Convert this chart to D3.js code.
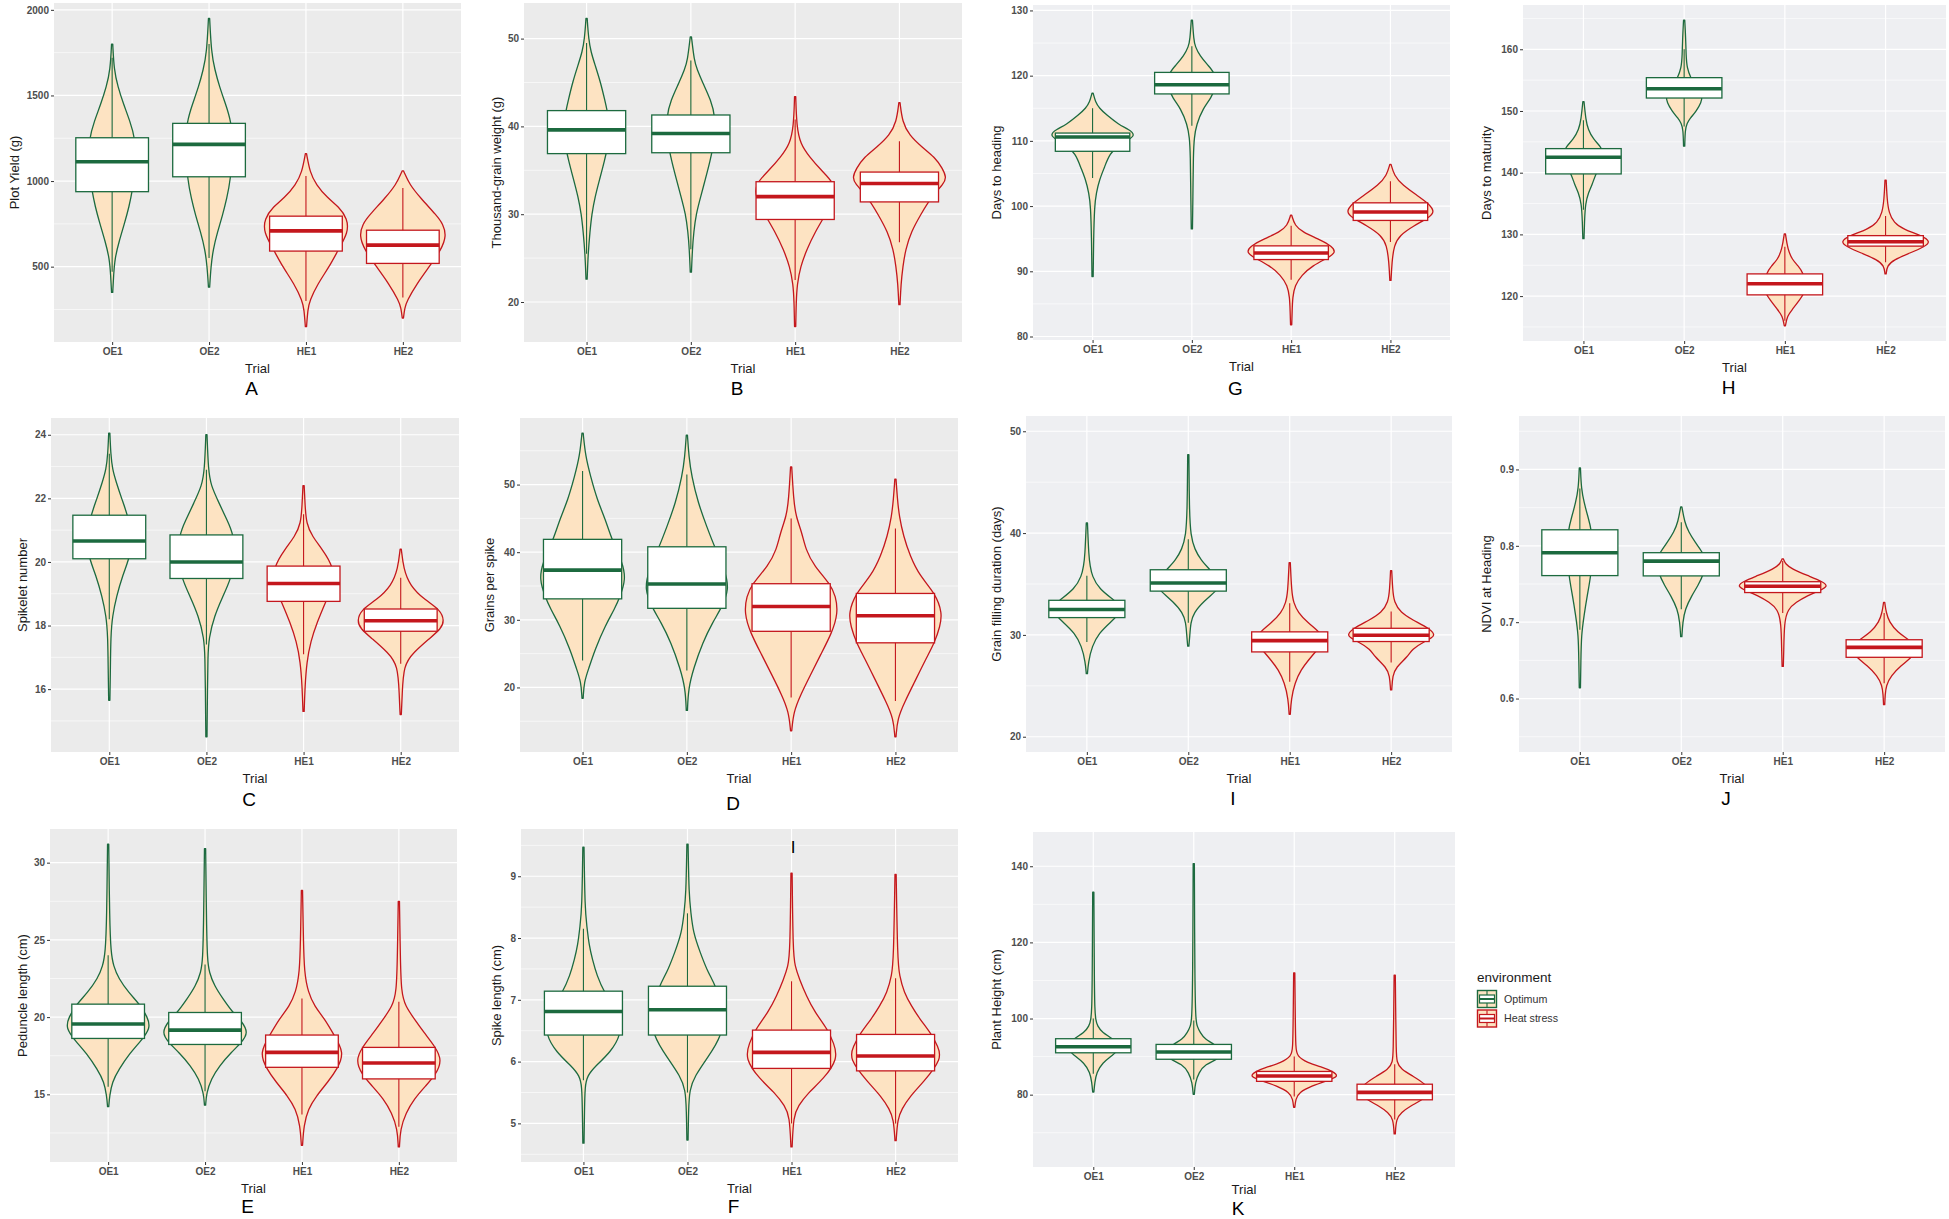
<!DOCTYPE html>
<html>
<head>
<meta charset="utf-8">
<script src="https://cdn.jsdelivr.net/npm/d3@7"></script>
<style>
	body { margin: 0; background: #fff; }
	svg { display: block; font-family: "Liberation Sans", Arial, sans-serif; }
	.tick-lab { font-size: 10px; font-weight: bold; fill: #4d4d4d; }
	.ax-title { font-size: 13px; fill: #1a1a1a; }
	.letter { font-family: "Liberation Sans", Arial, sans-serif; font-size: 19px; fill: #000; }
</style>
</head>
<body>
<svg id="chart" width="1949" height="1219"></svg>
<script>
// Trials on the x axis and the environment each one belongs to
const trials = ["OE1", "OE2", "HE1", "HE2"];
const environments = ["Optimum", "Optimum", "Heat stress", "Heat stress"];
const envNames = ["Optimum", "Heat stress"];

// Each violin is a list of [value, relative density]
// box = [q1, median, q3], whisker = [low, high]

// A - Plot yield
const yieldTicks = [500, 1000, 1500, 2000];
const yieldBox = [[938, 1113, 1253], [1025, 1214, 1337], [591, 709, 795], [519, 626, 713]];
const yieldWhisker = [[470, 1720], [550, 1800], [300, 1030], [320, 960]];
const yieldViolin = [
	[[350,0],[450,0.02],[550,0.05],[650,0.15],[750,0.27],[850,0.38],[950,0.46],[1100,0.55],[1250,0.52],[1350,0.4],[1450,0.25],[1550,0.12],[1650,0.03],[1800,0]],
	[[380,0],[500,0.03],[600,0.08],[700,0.18],[800,0.3],[900,0.4],[1000,0.48],[1200,0.55],[1350,0.5],[1450,0.37],[1550,0.23],[1650,0.12],[1750,0.04],[1950,0]],
	[[150,0],[250,0.03],[300,0.07],[400,0.26],[500,0.53],[600,0.74],[700,0.97],[780,0.95],[850,0.75],[900,0.49],[980,0.22],[1050,0.08],[1160,0]],
	[[200,0],[260,0.03],[300,0.08],[400,0.31],[500,0.6],[600,0.88],[680,1.0],[750,0.92],[800,0.77],[900,0.4],[980,0.14],[1060,0]]
];

// B - Thousand-grain weight
const tgwTicks = [20, 30, 40, 50];
const tgwBox = [[36.9, 39.6, 41.8], [37.0, 39.2, 41.3], [29.4, 32.0, 33.7], [31.4, 33.5, 34.8]];
const tgwWhisker = [[25.5, 49.5], [26, 47.5], [22.5, 40.8], [26.8, 38.3]];
const tgwViolin = [
	[[22.6,0],[25.5,0.02],[28,0.06],[30,0.1],[32,0.17],[34,0.27],[36,0.37],[38.5,0.48],[41,0.47],[43,0.38],[45,0.29],[47,0.17],[48.5,0.08],[50,0.03],[52.3,0]],
	[[23.4,0],[26,0.02],[28,0.05],[30,0.1],[32,0.2],[34,0.3],[36,0.4],[38.5,0.5],[41,0.52],[43,0.42],[45,0.24],[46.5,0.12],[47.5,0.06],[50.2,0]],
	[[17.2,0],[20,0.01],[22,0.03],[24,0.1],[26,0.24],[28,0.42],[30,0.65],[32,0.85],[33.5,0.84],[35,0.55],[36.5,0.3],[38,0.1],[40,0.02],[43.4,0]],
	[[19.7,0],[22,0.02],[24,0.06],[26,0.12],[28,0.24],[30,0.45],[32,0.68],[33.5,0.95],[34.2,1.0],[35.2,0.92],[36.5,0.75],[37.7,0.46],[39,0.2],[40.5,0.05],[42.7,0]]
];

// G - Days to heading
const dthTicks = [80, 90, 100, 110, 120, 130];
const dthBox = [[108.4, 110.6, 111.2], [117.2, 118.6, 120.5], [91.8, 92.8, 93.9], [97.8, 99.1, 100.5]];
const dthWhisker = [[104.3, 115], [112.3, 124.5], [88.7, 97], [94.5, 103.8]];
const dthViolin = [
	[[89.2,0],[95,0.01],[100,0.03],[102,0.07],[104,0.14],[106,0.26],[108,0.37],[109.5,0.6],[110.8,1.0],[111.8,0.8],[112.5,0.58],[114,0.3],[115,0.14],[116,0.05],[117.3,0]],
	[[96.5,0],[101,0.01],[108,0.02],[110.5,0.04],[112.5,0.09],[115,0.24],[116.5,0.42],[118.5,0.55],[120.5,0.5],[121.6,0.35],[123,0.17],[124.5,0.06],[125.5,0.03],[128.5,0]],
	[[81.8,0],[84,0.01],[86,0.02],[87.8,0.07],[89.4,0.22],[90.9,0.48],[92,0.8],[92.8,1.0],[93.8,0.93],[95,0.59],[96,0.25],[97,0.07],[98.6,0]],
	[[88.6,0],[91.4,0.02],[94,0.07],[95.5,0.19],[97,0.52],[98.2,0.85],[99.1,1.0],[100.4,0.85],[101.6,0.6],[103.2,0.26],[104.7,0.07],[106.4,0]]
];

// H - Days to maturity
const dtmTicks = [120, 130, 140, 150, 160];
const dtmBox = [[139.8, 142.5, 143.9], [152.1, 153.6, 155.4], [120.2, 122.0, 123.6], [128.1, 128.8, 129.8]];
const dtmWhisker = [[134, 148.5], [147.5, 160], [116, 128], [125.5, 133]];
const dtmViolin = [
	[[129.3,0],[132,0.01],[135,0.03],[136.8,0.1],[138,0.18],[140,0.27],[141.5,0.4],[143,0.45],[144.2,0.38],[145.4,0.21],[147,0.09],[148.6,0.04],[151.5,0]],
	[[144.3,0],[147,0.01],[148,0.05],[148.8,0.12],[150,0.26],[151.4,0.37],[152.5,0.4],[154,0.25],[155.4,0.13],[157,0.05],[159,0.03],[162,0.02],[164.7,0]],
	[[115.2,0],[116.8,0.04],[117.8,0.15],[119.5,0.33],[120.5,0.42],[121.8,0.46],[123.7,0.4],[124.9,0.29],[125.9,0.15],[127.6,0.05],[130.1,0]],
	[[123.6,0],[124.9,0.02],[125.9,0.17],[127,0.54],[128,0.85],[128.8,1.0],[129.8,0.8],[130.8,0.39],[131.9,0.17],[133.5,0.06],[135.7,0.02],[138.8,0]]
];

// C - Spikelet number
const spkTicks = [16, 18, 20, 22, 24];
const spkBox = [[20.1, 20.66, 21.47], [19.48, 20.0, 20.85], [18.76, 19.32, 19.87], [17.82, 18.15, 18.52]];
const spkWhisker = [[18.2, 23.4], [17.4, 22.9], [17.1, 21.5], [16.8, 19.5]];
const spkViolin = [
	[[15.65,0],[16.4,0.01],[17.7,0.02],[18.3,0.06],[18.9,0.15],[19.6,0.3],[20.1,0.45],[20.7,0.52],[21.45,0.42],[22,0.27],[22.5,0.15],[22.9,0.06],[23.4,0.02],[24.05,0]],
	[[14.5,0],[16,0.01],[17,0.02],[17.6,0.04],[18.3,0.17],[18.9,0.36],[19.45,0.55],[20.1,0.65],[20.85,0.62],[21.3,0.47],[21.85,0.28],[22.4,0.09],[22.9,0.03],[24,0]],
	[[15.3,0],[16.1,0.02],[16.85,0.06],[17.5,0.15],[18.1,0.3],[18.75,0.5],[19.3,0.68],[19.85,0.68],[20.4,0.42],[20.8,0.19],[21.2,0.05],[21.8,0.02],[22.4,0]],
	[[15.2,0],[15.8,0.02],[16.75,0.05],[17.15,0.28],[17.6,0.66],[17.9,0.92],[18.15,1.0],[18.5,0.9],[18.8,0.55],[19.25,0.2],[19.8,0.05],[20.4,0]]
];

// D - Grains per spike
const gpsTicks = [20, 30, 40, 50];
const gpsBox = [[33.1, 37.35, 41.9], [31.7, 35.3, 40.8], [28.3, 31.96, 35.34], [26.6, 30.6, 33.9]];
const gpsWhisker = [[24, 52], [22.5, 51.5], [18.5, 45], [18, 43.5]];
const gpsViolin = [
	[[18.4,0],[20.8,0.02],[22.8,0.12],[25.7,0.26],[29.2,0.48],[31.6,0.68],[33.5,0.8],[36,0.92],[38.5,0.85],[41.8,0.62],[44.85,0.48],[47.8,0.3],[51.2,0.16],[54.2,0.05],[57.6,0]],
	[[16.6,0],[19.85,0.02],[22.8,0.13],[26.7,0.33],[29.7,0.55],[31.6,0.72],[34.5,0.91],[37.5,0.8],[40.7,0.59],[43.9,0.41],[47.3,0.23],[51.2,0.09],[54.2,0.03],[57.3,0]],
	[[13.6,0],[16.4,0.04],[18.9,0.19],[21.8,0.4],[24.8,0.62],[28.1,0.87],[31,1.0],[33.5,0.95],[35.3,0.83],[38,0.48],[40.4,0.3],[42.9,0.22],[45.3,0.09],[47.8,0.04],[52.6,0]],
	[[12.7,0],[15.4,0.03],[17.9,0.19],[20.8,0.4],[24.3,0.65],[26.6,0.83],[29,0.95],[31,1.0],[33.9,0.85],[36.5,0.51],[39.5,0.3],[42.4,0.16],[45.3,0.07],[47.8,0.03],[50.8,0]]
];

// I - Grain filling duration
const gfdTicks = [20, 30, 40, 50];
const gfdLimits = [20, 50];
const gfdBox = [[31.7, 32.5, 33.4], [34.3, 35.1, 36.4], [28.33, 29.44, 30.3], [29.35, 29.97, 30.65]];
const gfdWhisker = [[29.3, 35.8], [31.2, 39.4], [25.4, 33.1], [27.3, 32.3]];
const gfdViolin = [
	[[26.2,0],[27.3,0.02],[28.9,0.1],[30.2,0.26],[31.2,0.5],[32.5,0.82],[33.4,0.6],[34.5,0.26],[35.8,0.1],[36.8,0.06],[37.7,0.03],[41,0]],
	[[28.9,0],[29.9,0.02],[31.2,0.04],[32.2,0.11],[33.3,0.33],[34.3,0.6],[35,0.73],[36.4,0.47],[37.4,0.26],[38.4,0.13],[39.7,0.04],[42.3,0.01],[47.7,0]],
	[[22.2,0],[23.7,0.02],[25.3,0.1],[26.6,0.24],[27.5,0.4],[28.3,0.55],[29.5,0.79],[30.3,0.64],[31.2,0.39],[32.2,0.17],[33.2,0.07],[34.2,0.03],[37.1,0]],
	[[24.6,0],[26,0.02],[26.8,0.09],[27.9,0.36],[28.6,0.45],[29.3,0.7],[29.9,1.0],[30.6,0.85],[31.5,0.45],[32.2,0.2],[33.2,0.05],[34.5,0.02],[36.3,0]]
];

// J - NDVI at heading
const ndviTicks = [0.6, 0.7, 0.8, 0.9];
const ndviLimits = [0.55, 0.95];
const ndviBox = [[0.761, 0.791, 0.821], [0.7606, 0.780, 0.791], [0.7388, 0.747, 0.753], [0.654, 0.667, 0.677]];
const ndviWhisker = [[0.69, 0.875], [0.717, 0.831], [0.712, 0.78], [0.62, 0.712]];
const ndviViolin = [
	[[0.614,0],[0.65,0.01],[0.683,0.02],[0.709,0.08],[0.735,0.15],[0.76,0.23],[0.79,0.27],[0.821,0.25],[0.839,0.16],[0.857,0.08],[0.874,0.02],[0.902,0]],
	[[0.681,0],[0.7,0.02],[0.717,0.07],[0.735,0.22],[0.748,0.36],[0.765,0.5],[0.78,0.52],[0.791,0.47],[0.805,0.29],[0.818,0.15],[0.831,0.06],[0.851,0]],
	[[0.642,0],[0.66,0.01],[0.7,0.02],[0.717,0.1],[0.726,0.28],[0.735,0.54],[0.741,0.8],[0.747,1.0],[0.753,0.88],[0.761,0.54],[0.77,0.18],[0.776,0.05],[0.783,0]],
	[[0.592,0],[0.605,0.01],[0.617,0.03],[0.63,0.14],[0.643,0.36],[0.653,0.58],[0.665,0.76],[0.677,0.54],[0.687,0.28],[0.7,0.1],[0.713,0.03],[0.726,0]]
];

// E - Peduncle length
const pedTicks = [15, 20, 25, 30];
const pedBox = [[18.62, 19.55, 20.84], [18.23, 19.16, 20.3], [16.75, 17.72, 18.84], [16.0, 17.03, 18.04]];
const pedWhisker = [[15.5, 24], [15.2, 23.4], [13.7, 21.2], [12.9, 21]];
const pedViolin = [
	[[14.2,0],[14.9,0.02],[15.8,0.08],[16.6,0.23],[17.7,0.5],[18.4,0.73],[19.3,0.98],[20,0.9],[20.8,0.73],[21.6,0.46],[22.5,0.23],[23.3,0.11],[24.2,0.05],[26.3,0.02],[31.2,0]],
	[[14.3,0],[15.1,0.02],[16,0.13],[16.85,0.32],[17.7,0.59],[18.4,0.85],[19,0.99],[19.7,0.85],[20.3,0.63],[21.2,0.4],[22,0.21],[22.9,0.08],[23.75,0.04],[26,0.02],[30.9,0]],
	[[11.7,0],[13,0.03],[14.05,0.13],[14.9,0.32],[15.8,0.59],[16.7,0.82],[17.7,0.97],[18.8,0.74],[19.9,0.51],[20.7,0.28],[21.6,0.13],[22.9,0.04],[25,0.02],[28.2,0]],
	[[11.6,0],[12.75,0.02],[13.8,0.15],[14.7,0.34],[15.55,0.61],[16.3,0.85],[17.2,0.99],[18.05,0.84],[19,0.57],[19.9,0.34],[20.7,0.14],[21.6,0.04],[24,0.02],[27.5,0]]
];

// F - Spike length
const splTicks = [5, 6, 7, 8, 9];
const splBox = [[6.43, 6.81, 7.14], [6.43, 6.84, 7.22], [5.89, 6.15, 6.51], [5.85, 6.09, 6.44]];
const splWhisker = [[5.7, 8.15], [5.5, 8.4], [5.0, 7.3], [5.0, 7.35]];
const splViolin = [
	[[4.68,0],[5.2,0.01],[5.6,0.02],[5.77,0.07],[5.93,0.25],[6.15,0.57],[6.43,0.8],[6.7,0.78],[7.13,0.43],[7.39,0.28],[7.66,0.18],[7.88,0.11],[8.2,0.06],[8.47,0.02],[9.47,0]],
	[[4.73,0],[5.2,0.01],[5.55,0.03],[5.77,0.15],[6.04,0.4],[6.43,0.75],[6.8,0.75],[7.22,0.61],[7.44,0.43],[7.77,0.26],[8.09,0.11],[8.42,0.06],[8.69,0.02],[9.52,0]],
	[[4.62,0],[5.12,0.03],[5.28,0.13],[5.5,0.35],[5.71,0.67],[6.05,1.0],[6.3,0.9],[6.52,0.77],[6.8,0.49],[7.06,0.31],[7.33,0.16],[7.55,0.06],[7.77,0.02],[9.05,0]],
	[[4.72,0],[5.07,0.03],[5.23,0.12],[5.44,0.3],[5.66,0.58],[6.05,1.0],[6.25,0.9],[6.45,0.76],[6.69,0.51],[6.9,0.33],[7.12,0.17],[7.39,0.07],[7.66,0.03],[9.03,0]]
];

// K - Plant height
const phTicks = [80, 100, 120, 140];
const phLimits = [65, 145];
const phBox = [[91.0, 92.6, 94.7], [89.3, 91.2, 93.2], [83.5, 84.9, 86.1], [78.65, 80.6, 82.75]];
const phWhisker = [[85.5, 100], [84, 99.5], [79.5, 90], [73.5, 88]];
const phViolin = [
	[[80.7,0],[83.2,0.02],[85.8,0.06],[88.4,0.19],[90.2,0.41],[92.5,0.62],[94.8,0.41],[96.3,0.19],[98,0.08],[99.7,0.04],[102.4,0.02],[110,0.01],[133.2,0]],
	[[80.1,0],[83.2,0.02],[85.8,0.1],[88,0.24],[89.3,0.54],[91.2,0.62],[93.3,0.45],[94.5,0.24],[96.3,0.13],[98,0.06],[99.7,0.03],[110,0.01],[140.7,0]],
	[[76.7,0],[78.8,0.02],[80.6,0.09],[82.3,0.38],[83.6,0.7],[84.8,1.0],[86.1,0.85],[87.1,0.64],[88.4,0.27],[90.2,0.05],[92,0.02],[100,0.01],[112,0]],
	[[69.7,0],[73.6,0.02],[75.3,0.13],[77.1,0.35],[78.4,0.57],[80.5,0.8],[82.8,0.68],[84.9,0.39],[86.7,0.13],[88.4,0.03],[92,0.02],[100,0.01],[111.4,0]]
];

const panels = [
	{ letter: "A", ylab: "Plot Yield (g)", ticks: yieldTicks, box: yieldBox, whisker: yieldWhisker, violin: yieldViolin },
	{ letter: "B", ylab: "Thousand-grain weight (g)", ticks: tgwTicks, box: tgwBox, whisker: tgwWhisker, violin: tgwViolin },
	{ letter: "G", ylab: "Days to heading", ticks: dthTicks, box: dthBox, whisker: dthWhisker, violin: dthViolin },
	{ letter: "H", ylab: "Days to maturity", ticks: dtmTicks, box: dtmBox, whisker: dtmWhisker, violin: dtmViolin },
	{ letter: "C", ylab: "Spikelet number", ticks: spkTicks, box: spkBox, whisker: spkWhisker, violin: spkViolin },
	{ letter: "D", ylab: "Grains per spike", ticks: gpsTicks, box: gpsBox, whisker: gpsWhisker, violin: gpsViolin },
	{ letter: "I", ylab: "Grain filling duration (days)", ticks: gfdTicks, limits: gfdLimits, box: gfdBox, whisker: gfdWhisker, violin: gfdViolin },
	{ letter: "J", ylab: "NDVI at Heading", ticks: ndviTicks, limits: ndviLimits, box: ndviBox, whisker: ndviWhisker, violin: ndviViolin },
	{ letter: "E", ylab: "Peduncle length (cm)", ticks: pedTicks, box: pedBox, whisker: pedWhisker, violin: pedViolin },
	{ letter: "F", ylab: "Spike length (cm)", ticks: splTicks, box: splBox, whisker: splWhisker, violin: splViolin },
	{ letter: "K", ylab: "Plant Height (cm)", ticks: phTicks, limits: phLimits, box: phBox, whisker: phWhisker, violin: phViolin }
];

// Where each panel sits on the page (plot area), where its y title goes
// and how far below the plot the "Trial" title (ty) and the letter (ly) sit
const layout = {
	A: { x0: 54, x1: 461, y0: 3, y1: 342, tx: 15, ty: 31, ly: 53, bg: "#ebebeb" },
	B: { x0: 524, x1: 962, y0: 3, y1: 342, tx: 497, ty: 31, ly: 53, bg: "#ebebeb" },
	G: { x0: 1033, x1: 1450, y0: 5, y1: 340, tx: 997, ty: 31, ly: 55, bg: "#eeeff2" },
	H: { x0: 1523, x1: 1946, y0: 5, y1: 341, tx: 1487, ty: 31, ly: 53, bg: "#eeeff2" },
	C: { x0: 51, x1: 459, y0: 418, y1: 752, tx: 23, ty: 31, ly: 54, bg: "#ebebeb" },
	D: { x0: 520, x1: 958, y0: 418, y1: 752, tx: 490, ty: 31, ly: 58, bg: "#ebebeb" },
	I: { x0: 1026, x1: 1452, y0: 416, y1: 752, tx: 997, ty: 31, ly: 53, bg: "#eeeff2" },
	J: { x0: 1519, x1: 1945, y0: 416, y1: 752, tx: 1487, ty: 31, ly: 53, bg: "#eeeff2" },
	E: { x0: 50, x1: 457, y0: 829, y1: 1162, tx: 23, ty: 31, ly: 51, bg: "#ebebeb" },
	F: { x0: 521, x1: 958, y0: 829, y1: 1162, tx: 497, ty: 31, ly: 51, bg: "#ebebeb" },
	K: { x0: 1033, x1: 1455, y0: 832, y1: 1167, tx: 997, ty: 27, ly: 48, bg: "#eeeff2" }
};

const envColor = d3.scaleOrdinal().domain(envNames).range(["#1c6a3f", "#c4171d"]);
const violinFill = "#fde3c2";

const svg = d3.select("#chart");

panels.forEach((p) => {
	const L = layout[p.letter];
	const g = svg.append("g").attr("class", "panel");

	// y limits: data range (or set limits) with ggplot's 5% expansion
	const lim = p.limits || d3.extent(p.violin.flat(), (d) => d[0]);
	const pad = (lim[1] - lim[0]) * 0.05;
	const y = d3.scaleLinear().domain([lim[0] - pad, lim[1] + pad]).range([L.y1, L.y0]);
	const x = d3.scalePoint().domain(trials).range([L.x0, L.x1]).padding(0.6);
	const step = x.step();
	// small floor so the thin tails read as a line like in the original
	const half = d3.scaleLinear().domain([0, 1]).range([0.6, step * 0.45]);

	g.append("rect")
		.attr("x", L.x0).attr("y", L.y0)
		.attr("width", L.x1 - L.x0).attr("height", L.y1 - L.y0)
		.attr("fill", L.bg);

	// minor grid halfway between the major ticks
	const tStep = p.ticks[1] - p.ticks[0];
	const minor = [];
	for (let i = -1; i < p.ticks.length; i++) {
		const v = p.ticks[0] + tStep * (i + 0.5);
		if (v > y.domain()[0] && v < y.domain()[1]) minor.push(v);
	}
	g.selectAll(".minor").data(minor).enter().append("line")
		.attr("x1", L.x0).attr("x2", L.x1)
		.attr("y1", (d) => y(d)).attr("y2", (d) => y(d))
		.attr("stroke", "#fff").attr("stroke-width", 0.6);
	g.selectAll(".major").data(p.ticks).enter().append("line")
		.attr("x1", L.x0).attr("x2", L.x1)
		.attr("y1", (d) => y(d)).attr("y2", (d) => y(d))
		.attr("stroke", "#fff").attr("stroke-width", 1.2);
	g.selectAll(".vgrid").data(trials).enter().append("line")
		.attr("x1", (d) => x(d)).attr("x2", (d) => x(d))
		.attr("y1", L.y0).attr("y2", L.y1)
		.attr("stroke", "#fff").attr("stroke-width", 1.2);

	// violins
	trials.forEach((t, i) => {
		const cx = x(t);
		const col = envColor(environments[i]);
		const area = d3.area()
			.curve(d3.curveBasis)
			.y((d) => y(d[0]))
			.x0((d) => cx - half(d[1]))
			.x1((d) => cx + half(d[1]));
		g.append("path")
			.datum(p.violin[i])
			.attr("d", area)
			.attr("fill", violinFill)
			.attr("stroke", col)
			.attr("stroke-width", 1.3)
			.attr("stroke-linejoin", "round");

		// whisker line
		g.append("line")
			.attr("x1", cx).attr("x2", cx)
			.attr("y1", y(p.whisker[i][0])).attr("y2", y(p.whisker[i][1]))
			.attr("stroke", col).attr("stroke-width", 1.1);

		// box
		const bw = step * 0.75;
		const b = p.box[i];
		g.append("rect")
			.attr("x", cx - bw / 2).attr("width", bw)
			.attr("y", y(b[2])).attr("height", y(b[0]) - y(b[2]))
			.attr("fill", "#fff")
			.attr("stroke", col).attr("stroke-width", 1.3);
		g.append("line")
			.attr("x1", cx - bw / 2).attr("x2", cx + bw / 2)
			.attr("y1", y(b[1])).attr("y2", y(b[1]))
			.attr("stroke", col).attr("stroke-width", 3.6);
	});

	// axes
	const yAxis = d3.axisLeft(y).tickValues(p.ticks).tickSize(3).tickPadding(2).tickFormat((d) => String(d));
	const ya = g.append("g").attr("transform", `translate(${L.x0},0)`).call(yAxis);
	const xAxis = d3.axisBottom(x).tickSize(3).tickPadding(3);
	const xa = g.append("g").attr("transform", `translate(0,${L.y1})`).call(xAxis);
	[ya, xa].forEach((a) => {
		a.select(".domain").remove();
		a.selectAll(".tick line").attr("stroke", "#333").attr("stroke-width", 1);
		a.selectAll(".tick text").attr("class", "tick-lab").attr("fill", null).style("font-family", null).style("font-size", null);
		a.attr("font-family", null).attr("font-size", null);
	});

	const cx = (L.x0 + L.x1) / 2;
	g.append("text")
		.attr("class", "ax-title")
		.attr("x", cx).attr("y", L.y1 + L.ty)
		.attr("text-anchor", "middle")
		.text("Trial");
	g.append("text")
		.attr("class", "ax-title")
		.attr("transform", `translate(${L.tx + 4},${(L.y0 + L.y1) / 2}) rotate(-90)`)
		.attr("text-anchor", "middle")
		.text(p.ylab);
	g.append("text")
		.attr("class", "letter")
		.attr("x", cx - 6).attr("y", L.y1 + L.ly)
		.attr("text-anchor", "middle")
		.text(p.letter);
});

// stray "I" label sitting inside panel F
svg.append("text")
	.attr("class", "letter")
	.attr("x", 793).attr("y", 853)
	.attr("text-anchor", "middle")
	.style("font-size", "17px")
	.text("I");

// legend
const leg = svg.append("g").attr("transform", "translate(1477,968)");
leg.append("text")
	.attr("x", 0).attr("y", 14)
	.style("font-size", "13.5px").attr("fill", "#1a1a1a")
	.text("environment");
envNames.forEach((e, i) => {
	const col = envColor(e);
	const k = leg.append("g").attr("transform", `translate(0,${22 + i * 19.5})`);
	k.append("rect").attr("x", 0.5).attr("y", 0.5).attr("width", 19).attr("height", 17)
		.attr("fill", violinFill).attr("stroke", col).attr("stroke-width", 1.4);
	k.append("line").attr("x1", 10).attr("x2", 10).attr("y1", 1).attr("y2", 5).attr("stroke", col).attr("stroke-width", 1.1);
	k.append("line").attr("x1", 10).attr("x2", 10).attr("y1", 13).attr("y2", 17).attr("stroke", col).attr("stroke-width", 1.1);
	k.append("rect").attr("x", 2.5).attr("y", 5).attr("width", 15).attr("height", 8)
		.attr("fill", "#fff").attr("stroke", col).attr("stroke-width", 1.2);
	k.append("line").attr("x1", 2.5).attr("x2", 17.5).attr("y1", 9).attr("y2", 9).attr("stroke", col).attr("stroke-width", 2);
	k.append("text")
		.attr("x", 27).attr("y", 9).attr("dy", "0.35em")
		.style("font-size", "10.7px").attr("fill", "#333")
		.text(e);
});
</script>
</body>
</html>
